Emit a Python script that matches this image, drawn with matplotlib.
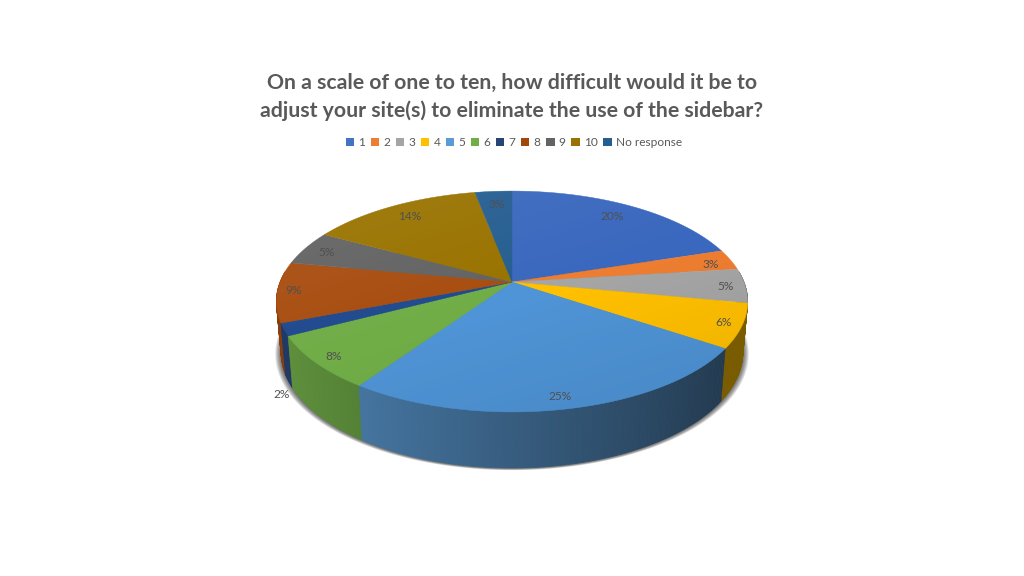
import numpy as np
import matplotlib
matplotlib.use('Agg')
import matplotlib.pyplot as plt
from matplotlib.colors import to_rgb
from matplotlib.patches import Patch, Polygon

title = 'On a scale of one to ten, how difficult would it be to\nadjust your site(s) to eliminate the use of the sidebar?'
categories = ['1', '2', '3', '4', '5', '6', '7', '8', '9', '10', 'No response']
values = [20, 3, 5, 6.4, 25, 7.8, 1.8, 8.8, 5, 14, 3]
top_colors = ['#3A68BE', '#ED7D31', '#A5A5A5', '#FFC000', '#4F94D6', '#70AD47',
              '#1F4A8E', '#A84D10', '#636363', '#997300', '#255E91']
legend_colors = ['#4472C4', '#ED7D31', '#A5A5A5', '#FFC000', '#5B9BD5', '#70AD47',
                 '#264478', '#9E480E', '#636363', '#997300', '#255E91']

plt.rcParams['font.family'] = ['Lato', 'DejaVu Sans']

# perspective of the pie, all in pixels
cx, cy = 512, 282
A, B, k = 232, 107, 0.1765
drop, xs, ys = 49.5, 0.98, 1.05


def top_rim(a, r=1.0):
    u, v = r * np.sin(a), r * np.cos(a)
    w = 1 + k * v
    return cx + A * u / w, cy - B * v / w


def bottom_rim(a):
    u, v = np.sin(a), np.cos(a)
    w = 1 + k * v
    return cx + xs * A * u / w, cy + drop - ys * B * v / w


fig = plt.figure(figsize=(10.24, 5.76), dpi=100, facecolor='white')
ax = fig.add_axes([0, 0, 1, 1])
ax.set_xlim(0, 1024)
ax.set_ylim(576, 0)
ax.axis('off')

# soft shadow under the pie
ring = np.linspace(0, 2 * np.pi, 300)
sx, sy = bottom_rim(ring)
for grow in np.linspace(6, 0, 13):
    ax.fill(cx + (sx - cx) * (1 + grow / 236), sy + grow * 0.3 + 0.5,
            color='#202020', alpha=0.07, lw=0, zorder=1)

edges = np.cumsum([0] + values) / sum(values) * 2 * np.pi

# side walls, back to front
strips = []
for i in range(len(values)):
    steps = max(int((edges[i + 1] - edges[i]) / 0.012), 2)
    ang = np.linspace(edges[i], edges[i + 1], steps + 1)
    for a0, a1 in zip(ang[:-1], ang[1:]):
        strips.append((a0, a1, i))
strips.sort(key=lambda s: np.cos((s[0] + s[1]) / 2), reverse=True)
for a0, a1, i in strips:
    mid = (a0 + a1) / 2
    if np.cos(mid) > 0.1:
        continue
    shade = np.clip(0.60 - 0.27 * np.sin(mid), 0.3, 0.95)
    base = np.array(to_rgb(legend_colors[i]))
    if categories[i] == '4':
        shade = 0.48
    col = tuple(base * shade)
    xt, yt = top_rim(np.array([a0, a1]))
    xb, yb = bottom_rim(np.array([a1, a0]))
    ax.add_patch(Polygon(np.c_[np.r_[xt, xb], np.r_[yt, yb]], closed=True,
                         fc=col, ec=col, lw=0.4, zorder=2))

# top face
for i in range(len(values)):
    ang = np.linspace(edges[i], edges[i + 1], 80)
    x, y = top_rim(ang)
    ax.fill(np.r_[cx, x], np.r_[cy, y], fc=top_colors[i], ec=top_colors[i], lw=0.3, zorder=3)

# light from the upper left across the top face
tx, ty = top_rim(ring)
clip = Polygon(np.c_[tx, ty], closed=True, transform=ax.transData, fc='none', ec='none')
ax.add_patch(clip)
gy, gx = np.mgrid[0:1:120j, 0:1:240j]
shine = np.zeros(gy.shape + (4,))
amount = 0.5 - (0.6 * gy + 0.4 * gx)
shine[..., :3] = (amount > 0)[..., None]
shine[..., 3] = np.abs(amount) * 0.16
im = ax.imshow(shine, extent=(276, 748, 412, 191), aspect='auto', zorder=4, interpolation='bilinear')
im.set_clip_path(clip)
ax.set_xlim(0, 1024)
ax.set_ylim(576, 0)

# slice labels
label_xy = [(612, 216), (711, 264), (726, 286), (724, 322), (560, 396), (334, 357),
            (282, 395), (294, 291), (327, 252), (410, 216), (497, 204)]
for val, (lx, ly) in zip(values, label_xy):
    ax.text(lx, ly, f'{val:.0f}%', ha='center', va='center', fontsize=8.6, color='#505050', zorder=5)

ax.text(512, 97, title, ha='center', va='center', fontsize=15.35, fontweight='bold',
        color='#595959', linespacing=1.45, zorder=5)

handles = [Patch(fc=c, ec='none') for c in legend_colors]
ax.legend(handles, categories, loc='center', bbox_to_anchor=(514 / 1024, 1 - 142.5 / 576), ncol=11,
          frameon=False, fontsize=8.6, labelcolor='#595959', handlelength=0.7, handleheight=0.7,
          handletextpad=0.35, columnspacing=0.47, borderpad=0, borderaxespad=0)

fig.savefig('out.png', dpi=100, facecolor='white')
